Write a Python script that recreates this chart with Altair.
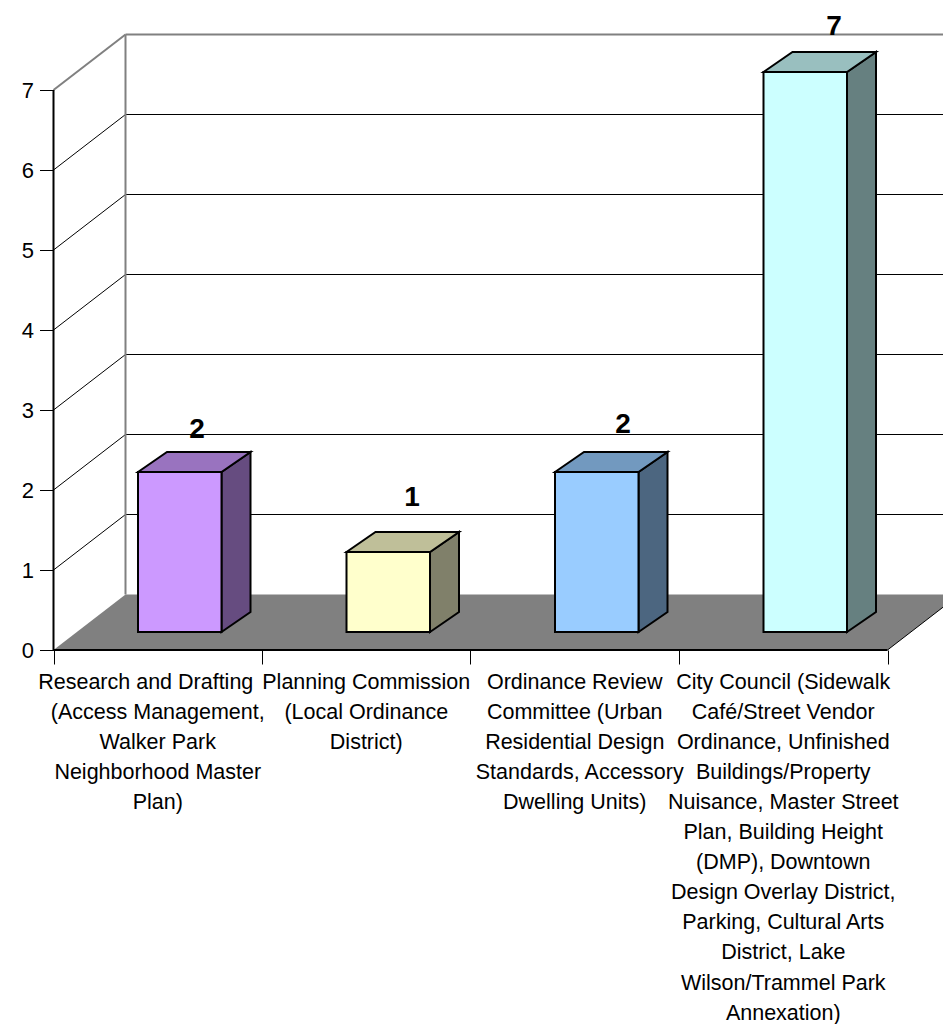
import altair as alt
import pandas as pd

# ---- chart values -------------------------------------------------------
categories = [
    ["Research and Drafting", "(Access Management,", "Walker Park", "Neighborhood Master", "Plan)"],
    ["Planning Commission", "(Local Ordinance", "District)"],
    ["Ordinance Review", "Committee (Urban", "Residential Design", "Standards, Accessory", "Dwelling Units)"],
    ["City Council (Sidewalk", "Café/Street Vendor", "Ordinance, Unfinished", "Buildings/Property",
     "Nuisance, Master Street", "Plan, Building Height", "(DMP), Downtown", "Design Overlay District,",
     "Parking, Cultural Arts", "District, Lake", "Wilson/Trammel Park", "Annexation)"],
]
values = [2, 1, 2, 7]
front_colors = ["#CC99FF", "#FFFFCC", "#99CCFF", "#CCFFFF"]
top_colors = ["#9973BF", "#BFBF99", "#7299BF", "#99BFBF"]
side_colors = ["#664C80", "#80806A", "#4C6680", "#668080"]
y_ticks = [0, 1, 2, 3, 4, 5, 6, 7]
x_ticks = [0, 1, 2, 3, 4]

# ---- layout (px on the page, converted to data units) -------------------
RIGHT_PX, BOTTOM_PX, M = 943, 1024, 8   # the page holds at most 935 px of svg width
X0_PX, Y0_PX = 53.5, 650.0
UX, UY = 208.5, 80.0            # px per category, px per value
WALL_DX, WALL_DY = 72 / UX, 55.5 / UY
BAR_LEFT, BAR_W = 84.5 / UX, 83.5 / UX
BAR_BASE = 18 / UY
BAR_DX, BAR_DY = 29 / UX, 20 / UY
N = len(values)
XDOM = [(M - X0_PX) / UX, (RIGHT_PX - X0_PX) / UX]
YDOM = [(Y0_PX - BOTTOM_PX) / UY, (Y0_PX - M) / UY]
xs = alt.Scale(domain=XDOM, nice=False, zero=False)
ys = alt.Scale(domain=YDOM, nice=False, zero=False)
X = alt.X("x:Q", scale=xs, title=None, axis=None)
Y = alt.Y("y:Q", scale=ys, title=None, axis=None)
FONT = "Liberation Sans"


def segs(rows, **style):
    d = pd.DataFrame(rows, columns=["x", "y", "x2", "y2"])
    return alt.Chart(d).mark_rule(clip=True, **style).encode(X, Y, x2="x2:Q", y2="y2:Q")


grid_back = segs([[WALL_DX, v + WALL_DY, XDOM[1] + 1, v + WALL_DY] for v in y_ticks[1:-1]],
                 color="#000000", strokeWidth=1)
grid_diag = segs([[0, v, WALL_DX, v + WALL_DY] for v in y_ticks[1:-1]],
                 color="#000000", strokeWidth=1)
top_y = y_ticks[-1]
wall_edges = segs([[WALL_DX, WALL_DY, WALL_DX, top_y + WALL_DY],
                   [0, top_y, WALL_DX, top_y + WALL_DY],
                   [WALL_DX, top_y + WALL_DY, XDOM[1] + 1, top_y + WALL_DY]],
                  color="#808080", strokeWidth=2)

floor_df = pd.DataFrame({
    "x": [0, WALL_DX, N, N + WALL_DX],
    "y": [0, WALL_DY, WALL_DY, WALL_DY],
    "y2": [0, 0, 0, WALL_DY],
})
floor = alt.Chart(floor_df).mark_area(color="#808080", clip=True).encode(X, Y, y2="y2:Q")
floor_edge = segs([[N, 0, N + WALL_DX, WALL_DY]], color="#000000", strokeWidth=1)
axis_lines = segs([[0, 0, 0, top_y], [0, 0, N, 0]], color="#000000", strokeWidth=2)

# bars: three faces, all computed from the values
fronts, tops, sides = [], [], []
for i, v in enumerate(values):
    x0 = i + BAR_LEFT
    x1 = x0 + BAR_W
    yb = BAR_BASE
    yt = yb + v
    fronts.append({"x": x0, "x2": x1, "y": yb, "y2": yt, "c": front_colors[i]})
    for x, a, b in [(x0, yt, yt), (x0 + BAR_DX, yt + BAR_DY, yt), (x1, yt + BAR_DY, yt),
                    (x1 + BAR_DX, yt + BAR_DY, yt + BAR_DY)]:
        tops.append({"x": x, "y": a, "y2": b, "c": top_colors[i], "bar": i})
    for x, a, b in [(x1, yb, yt), (x1 + BAR_DX, yb + BAR_DY, yt + BAR_DY)]:
        sides.append({"x": x, "y": a, "y2": b, "c": side_colors[i], "bar": i})

COL = alt.Color("c:N", scale=None, legend=None)
stroke = dict(stroke="#000000", strokeWidth=2, strokeJoin="miter")
side_l = alt.Chart(pd.DataFrame(sides)).mark_area(**stroke).encode(X, Y, y2="y2:Q", color=COL, detail="bar:N")
top_l = alt.Chart(pd.DataFrame(tops)).mark_area(**stroke).encode(X, Y, y2="y2:Q", color=COL, detail="bar:N")
front_l = alt.Chart(pd.DataFrame(fronts)).mark_rect(**stroke).encode(X, Y, x2="x2:Q", y2="y2:Q", color=COL)

# value labels
LABEL_X_PX = [197, 412, 623, 834]
LABEL_LIFT_PX = [42, 54, 47, 45]
lab_df = pd.DataFrame({
    "x": [(p - X0_PX) / UX for p in LABEL_X_PX],
    "y": [BAR_BASE + v + l / UY for v, l in zip(values, LABEL_LIFT_PX)],
    "t": [str(v) for v in values],
})
val_labels = alt.Chart(lab_df).mark_text(font=FONT, fontSize=28, fontWeight="bold", color="#000000",
                                         baseline="middle", align="center").encode(X, Y, text="t:N")

# category labels, one row per line
LINE_FIRST_PX, LINE_STEP_PX = 682.5, 30.1
rows = []
for i, lines in enumerate(categories):
    for j, t in enumerate(lines):
        rows.append({"x": i + 0.5, "y": (Y0_PX - (LINE_FIRST_PX + j * LINE_STEP_PX)) / UY, "t": t,
                     "k": f"{i}-{j}", "nudge": -12 if (i, j) == (0, 0) else (5 if (i, j) == (2, 3) else 0)})
cat_df = pd.DataFrame(rows)
cat_labels = alt.Chart(cat_df).mark_text(font=FONT, fontSize=21.5, color="#000000", baseline="middle",
                                         align="center").transform_calculate(
    xn=f"datum.x + datum.nudge / {UX}"
).encode(alt.X("xn:Q", scale=xs, title=None, axis=None), Y, text="t:N", detail="k:N")

# real axes, shifted onto the floor's front edge
axes = alt.Chart(pd.DataFrame({"x": x_ticks[:1], "y": y_ticks[:1]})).mark_point(opacity=0).encode(
    alt.X("x:Q", scale=xs, title=None,
          axis=alt.Axis(values=x_ticks, labels=False, domain=False, grid=False, tickColor="#000000",
                        tickSize=14, tickWidth=1, offset=-(BOTTOM_PX - Y0_PX), orient="bottom")),
    alt.Y("y:Q", scale=ys, title=None,
          axis=alt.Axis(values=y_ticks, domain=False, grid=False, tickColor="#000000", tickSize=14,
                        tickWidth=1, labelFont=FONT, labelFontSize=22, labelColor="#000000",
                        labelPadding=6, format="d", offset=-(X0_PX - M), orient="left")),
)

chart = alt.layer(
    grid_back, grid_diag, floor, wall_edges, floor_edge, axis_lines,
    side_l, top_l, front_l, val_labels, cat_labels, axes,
).resolve_scale(x="shared", y="shared").resolve_axis(x="independent", y="independent").properties(
    width=RIGHT_PX - M, height=BOTTOM_PX - M,
    padding=0, autosize=alt.AutoSizeParams(type="none"),
).configure_view(stroke=None)

chart.save("out.html", embed_options={"renderer": "svg", "actions": False})
